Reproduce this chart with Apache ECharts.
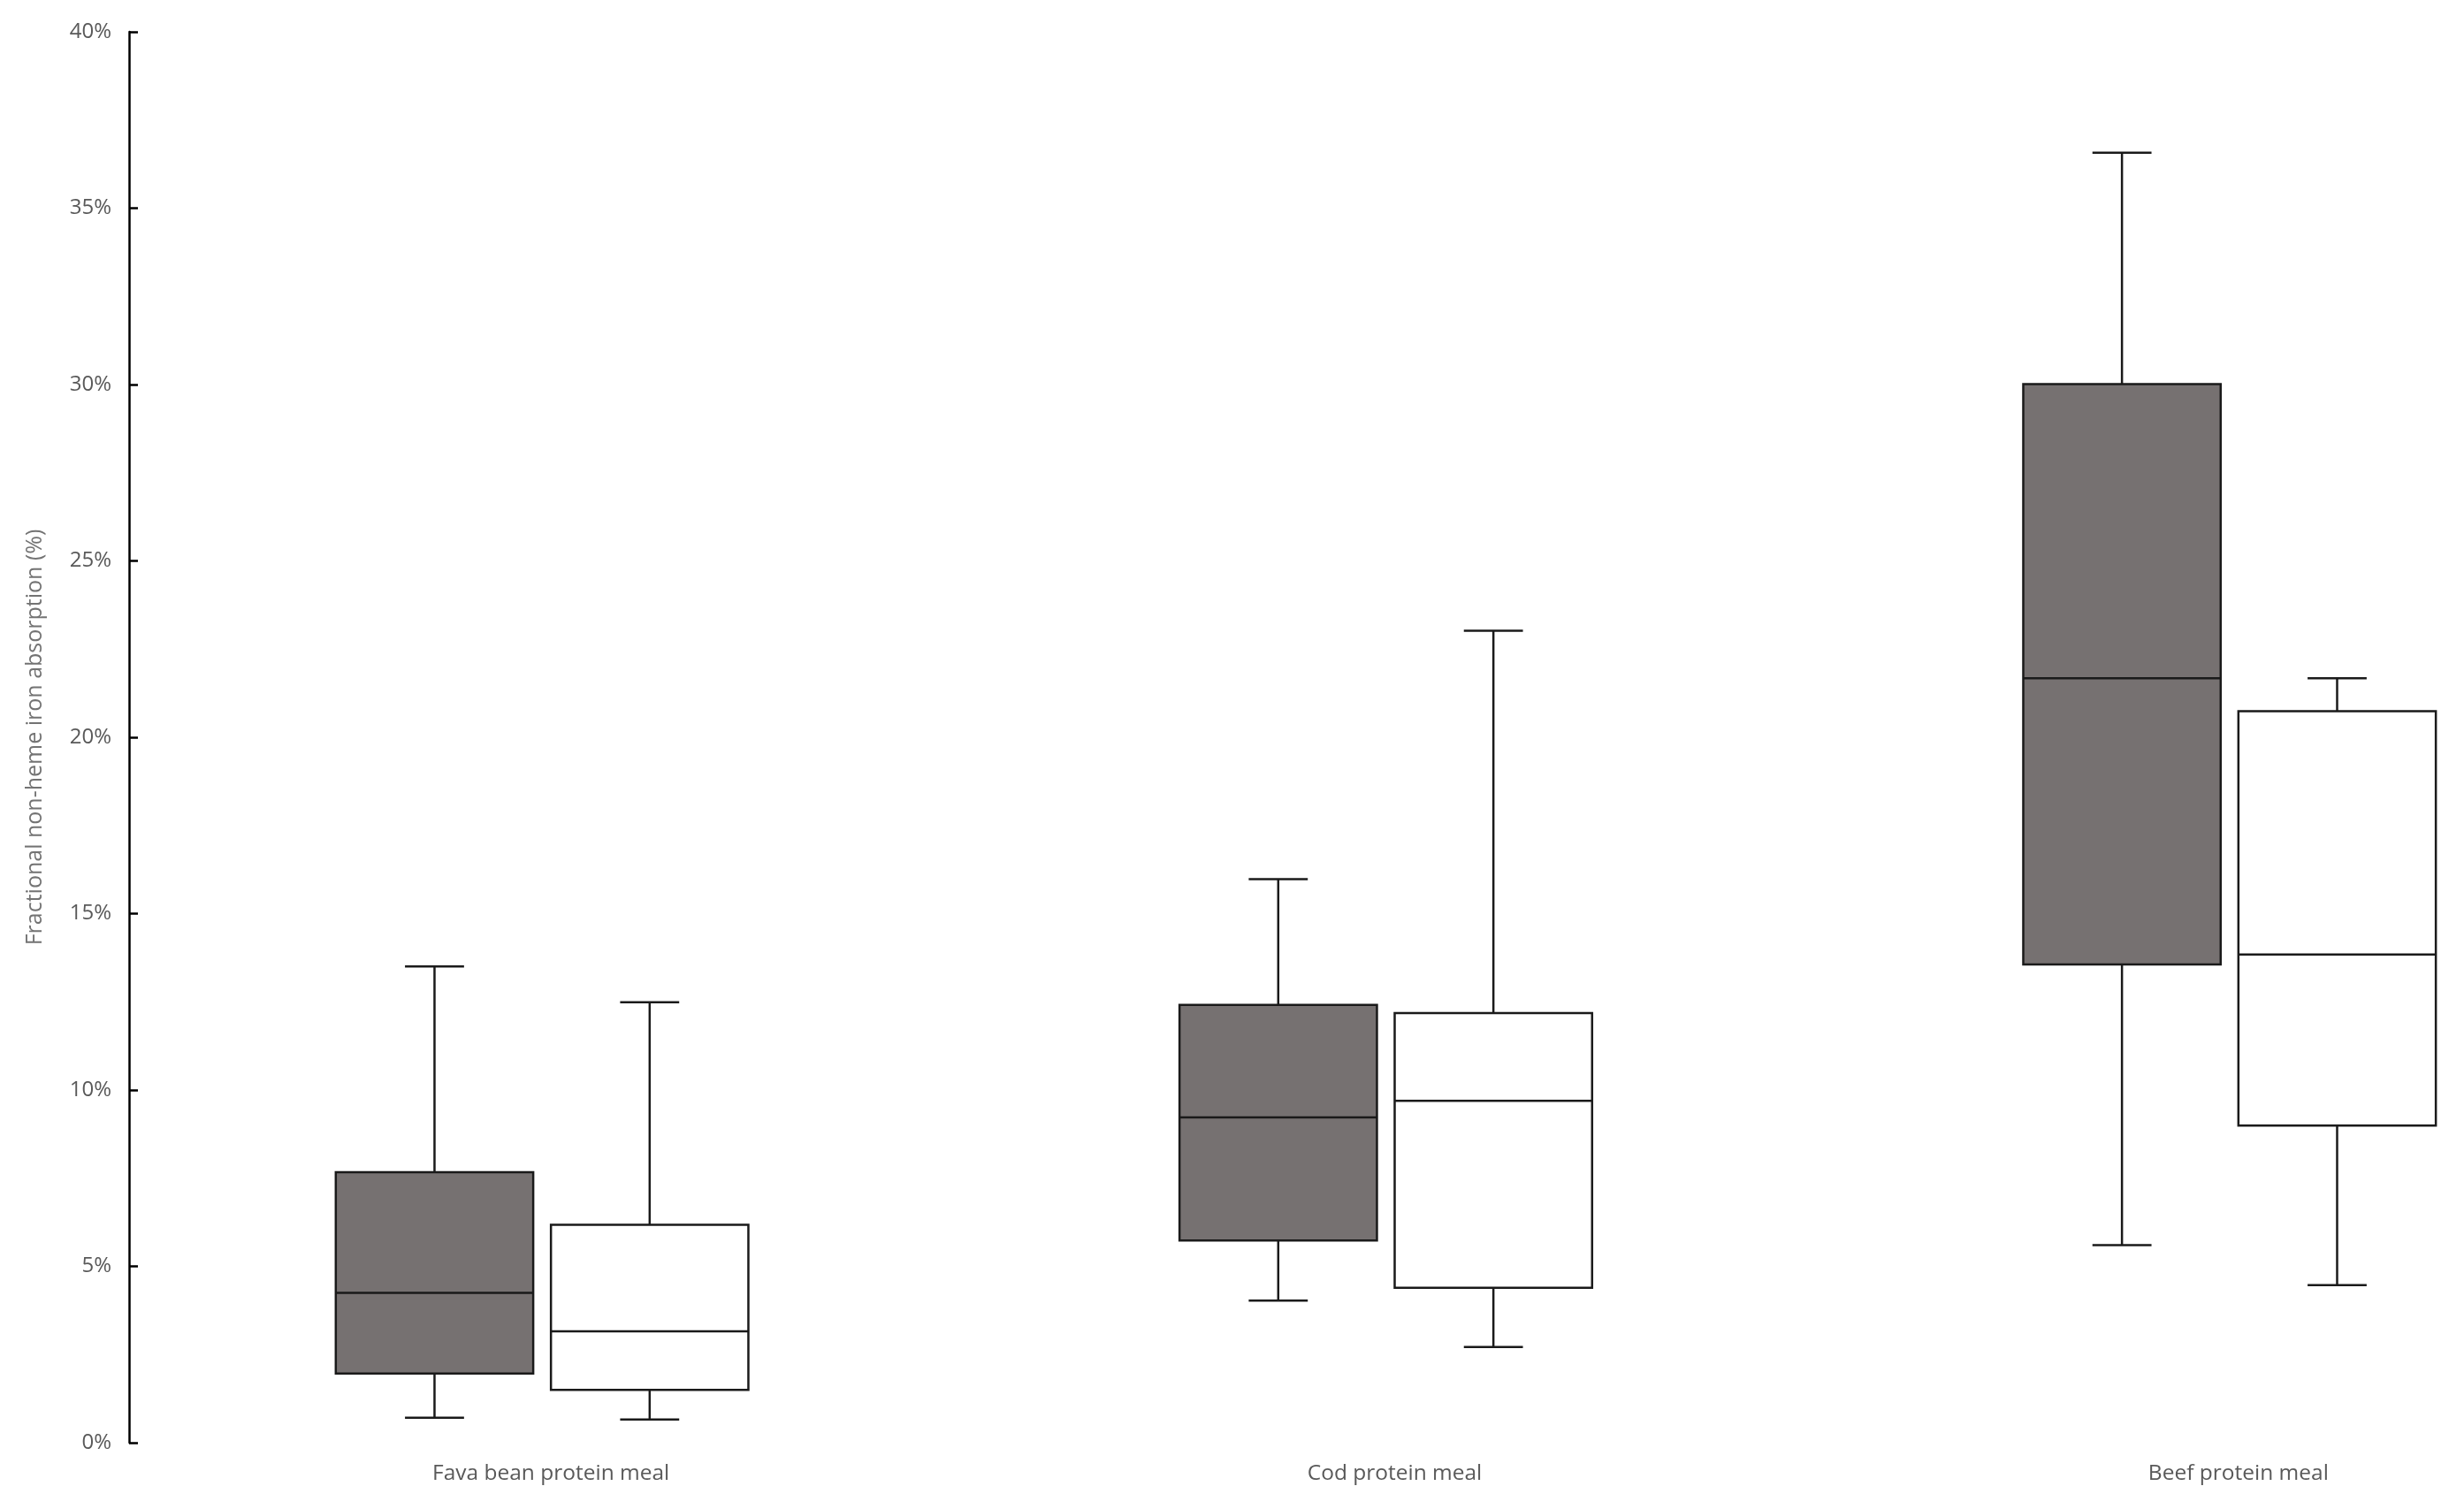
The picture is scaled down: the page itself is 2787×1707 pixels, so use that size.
<!DOCTYPE html>
<html>
<head>
<meta charset="utf-8">
<script src="https://cdn.jsdelivr.net/npm/echarts@6/dist/echarts.min.js"></script>
<style>
html,body{margin:0;padding:0;background:#fff;}
#chart{width:2787px;height:1707px;}
</style>
</head>
<body>
<div id="chart"></div>
<script>
// Categories and tick labels
const categories = ['Fava bean protein meal', 'Cod protein meal', 'Beef protein meal'];
const yTicks = [0, 5, 10, 15, 20, 25, 30, 35, 40];

// Box statistics per category: [min, Q1, median, Q3, max] in %
const darkSeries = [
  [0.71, 1.96, 4.25, 7.67, 13.50],
  [4.03, 5.73, 9.22, 12.41, 15.98],
  [5.60, 13.56, 21.67, 30.01, 36.57]
];
const whiteSeries = [
  [0.66, 1.50, 3.16, 6.18, 12.49],
  [2.71, 4.39, 9.69, 12.18, 23.02],
  [4.47, 8.99, 13.84, 20.74, 21.67]
];

const chart = echarts.init(document.getElementById('chart'), null, {renderer: 'canvas'});

function toData(arr) {
  return arr.map((v, i) => [i].concat(v));
}

function makeRender(centerFrac, fill) {
  return function (params, api) {
    const idx = api.value(0);
    const band = api.size([1, 0])[0];
    const pMin = api.coord([idx, api.value(1)]);
    const pQ1 = api.coord([idx, api.value(2)]);
    const pMed = api.coord([idx, api.value(3)]);
    const pQ3 = api.coord([idx, api.value(4)]);
    const pMax = api.coord([idx, api.value(5)]);
    const cx = pMin[0] + band * centerFrac;
    const hw = band * 0.234 / 2;
    const cw = band * 0.07 / 2;
    const ls = {stroke: '#1a1a1a', lineWidth: 2.5};
    return {
      type: 'group',
      children: [
        {type: 'line', shape: {x1: cx, y1: pQ3[1], x2: cx, y2: pMax[1]}, style: ls},
        {type: 'line', shape: {x1: cx, y1: pQ1[1], x2: cx, y2: pMin[1]}, style: ls},
        {type: 'line', shape: {x1: cx - cw, y1: pMax[1], x2: cx + cw, y2: pMax[1]}, style: ls},
        {type: 'line', shape: {x1: cx - cw, y1: pMin[1], x2: cx + cw, y2: pMin[1]}, style: ls},
        {type: 'rect', shape: {x: cx - hw, y: pQ3[1], width: hw * 2, height: pQ1[1] - pQ3[1]},
          style: {fill: fill, stroke: '#1a1a1a', lineWidth: 2.5}},
        {type: 'line', shape: {x1: cx - hw, y1: pMed[1], x2: cx + hw, y2: pMed[1]}, style: ls}
      ]
    };
  };
}

const font = "'Open Sans', 'Noto Sans', sans-serif";

chart.setOption({
  animation: false,
  backgroundColor: '#ffffff',
  grid: {left: 146, top: 36, height: 1596, width: 2863, containLabel: false, outerBoundsMode: 'none'},
  xAxis: {
    type: 'category',
    data: categories,
    axisLine: {show: false},
    axisTick: {show: false},
    splitLine: {show: false},
    axisLabel: {color: '#595959', fontSize: 24.5, fontFamily: font, margin: 23, interval: 0}
  },
  yAxis: {
    type: 'value',
    min: yTicks[0],
    max: yTicks[yTicks.length - 1],
    interval: yTicks[1] - yTicks[0],
    name: 'Fractional non-heme iron absorption (%)',
    nameLocation: 'middle',
    nameGap: 94,
    nameTextStyle: {color: '#737373', fontSize: 25, fontFamily: font},
    axisLine: {show: true, lineStyle: {color: '#000', width: 2.5}},
    axisTick: {show: true, inside: true, length: 10, lineStyle: {color: '#000', width: 2.5}},
    splitLine: {show: false},
    axisLabel: {color: '#595959', fontSize: 24, fontFamily: font, margin: 20, formatter: '{value}%'}
  },
  series: [
    {
      name: 'dark', type: 'custom', renderItem: makeRender(-0.138, '#767171'),
      data: toData(darkSeries), encode: {x: 0, y: [1, 2, 3, 4, 5]}, clip: false
    },
    {
      name: 'white', type: 'custom', renderItem: makeRender(0.117, '#ffffff'),
      data: toData(whiteSeries), encode: {x: 0, y: [1, 2, 3, 4, 5]}, clip: false
    }
  ]
});
</script>
</body>
</html>
